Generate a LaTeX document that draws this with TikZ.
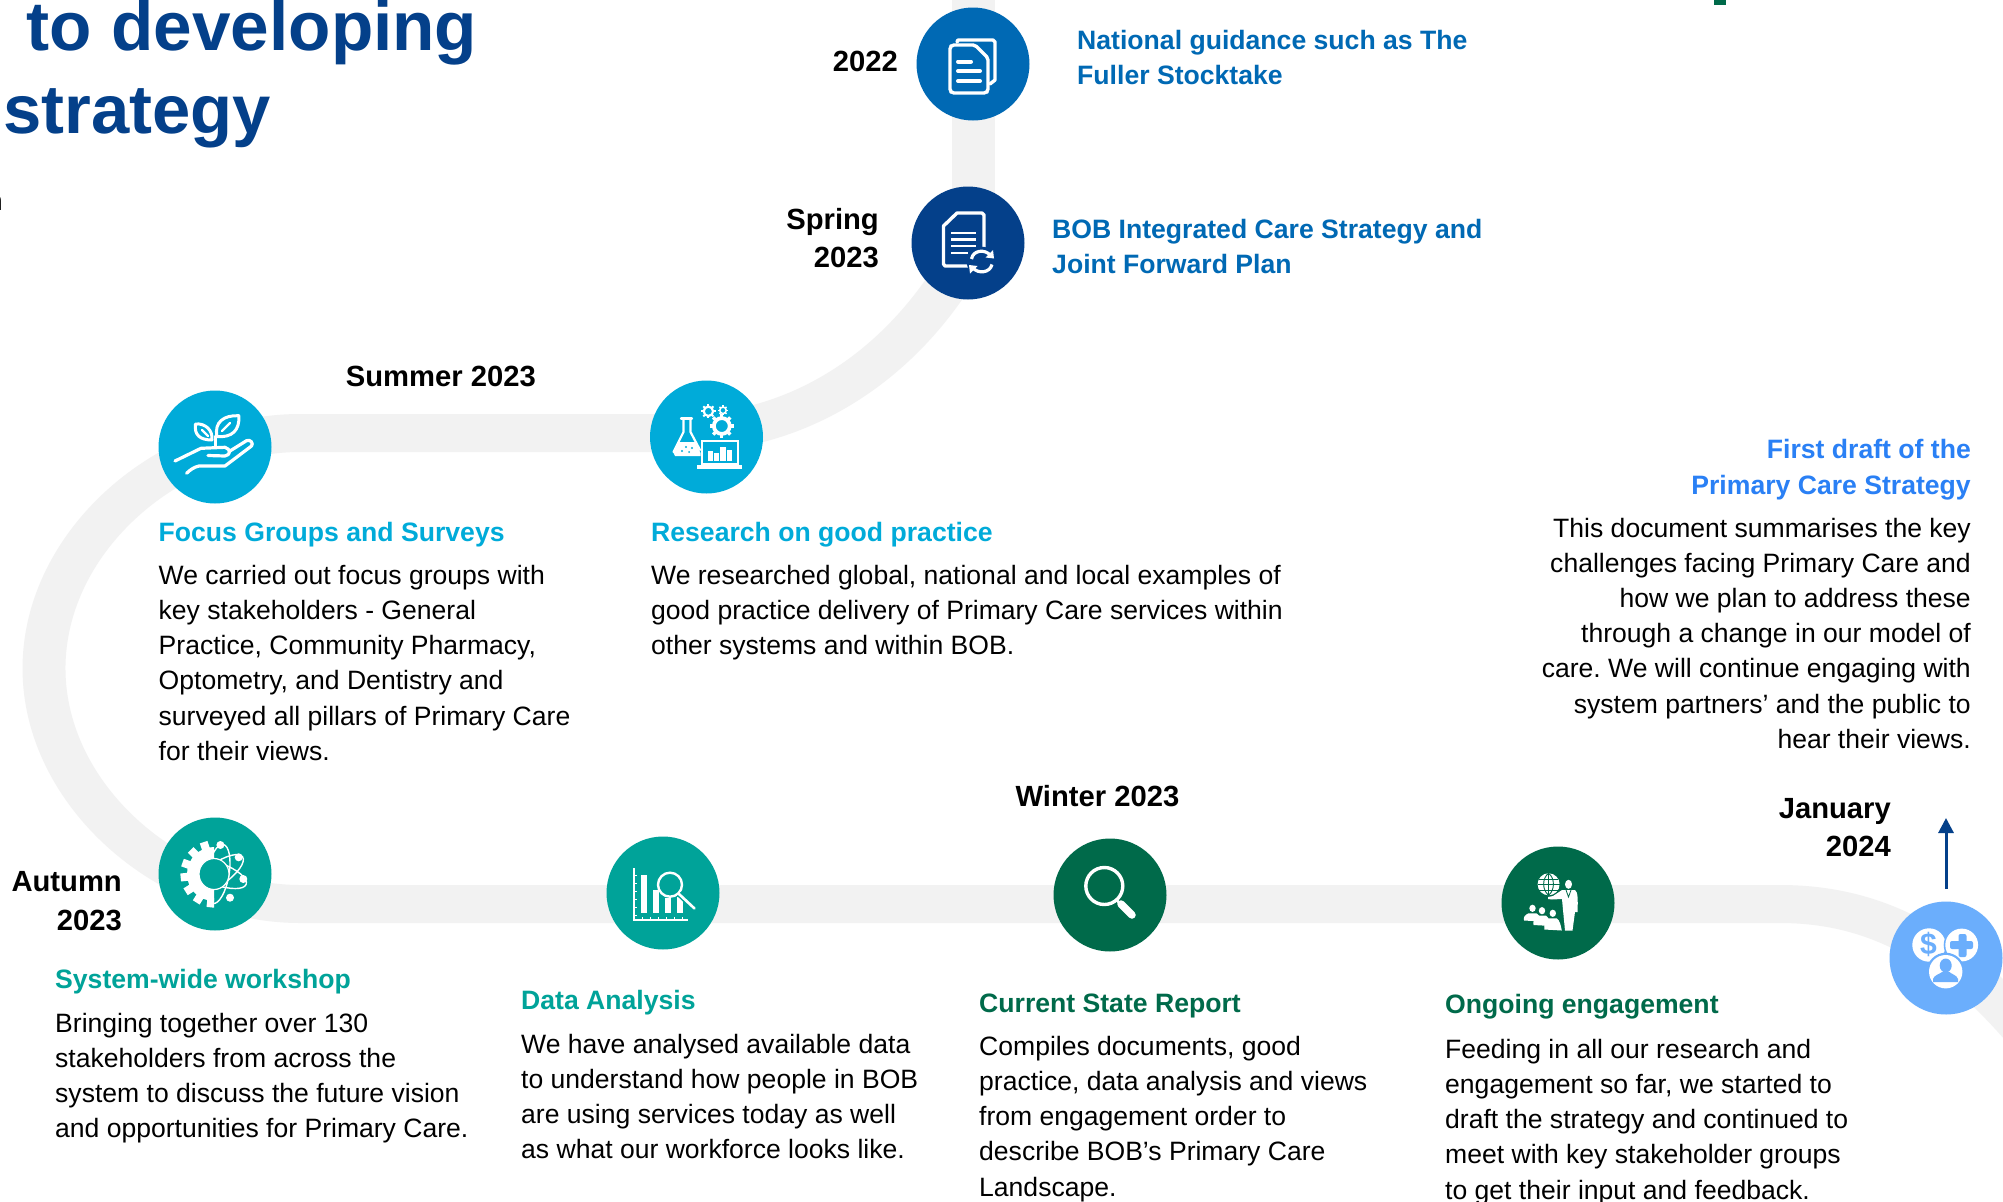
\documentclass[tikz,border=0pt]{standalone}
\usepackage{fontspec}
\setmainfont{Liberation Sans}
\usetikzlibrary{arrows.meta,shapes.geometric}
\definecolor{bandgrey}{HTML}{F2F2F2}
\definecolor{docblue}{HTML}{0069B4}
\definecolor{navy}{HTML}{04408A}
\definecolor{cyanc}{HTML}{00ABD9}
\definecolor{tealc}{HTML}{00A399}
\definecolor{greenc}{HTML}{006A4A}
\definecolor{skyc}{HTML}{6BAEFC}
\definecolor{brightblue}{HTML}{2A80F5}
\tikzset{
  band/.style={draw=bandgrey,line width=38pt},
  circ/.style={circle,inner sep=0,minimum size=#1},
  circ/.default=113pt,
  btxt/.style={font=\frenchspacing\fontsize{26.55}{35.25}\selectfont,inner sep=0,align=left,anchor=north west,yshift=19.4pt,text=black},
  btxtr/.style={font=\frenchspacing\fontsize{26.55}{35.2}\selectfont,inner sep=0,align=right,anchor=north east,yshift=19.4pt,text=black},
  hd/.style={font=\frenchspacing\bfseries\fontsize{26.6}{35.6}\selectfont,inner sep=0,align=left,anchor=north west,yshift=19.4pt},
  hdr/.style={font=\frenchspacing\bfseries\fontsize{26.6}{35.6}\selectfont,inner sep=0,align=right,anchor=north east,yshift=19.4pt},
  dt/.style={font=\bfseries\fontsize{29.2}{38.4}\selectfont,inner sep=0,align=right,anchor=north east,yshift=21pt,text=black},
  ttl/.style={font=\bfseries\fontsize{68.8}{83}\selectfont,inner sep=0,text=navy},
  ico/.style={draw=white,line width=#1,line cap=round,line join=round},
  ico/.default=3.4pt,
}
\newcommand{\gearic}[3]{%
  \draw[white,line width=#3*0.34pt] (#1,#2) circle[radius=#3*0.72pt];
  \foreach \a in {0,45,...,315}{\draw[white,line width=#3*0.3pt] ([shift={(#1,#2)}]\a:#3*0.75) -- ([shift={(#1,#2)}]\a:#3*1.1);}%
}
\begin{document}
\begin{tikzpicture}[x=1pt,y=-1pt]
\useasboundingbox (0,0) rectangle (2003,1202);
\clip (0,0) rectangle (2003,1202);
\fill[white] (0,0) rectangle (2003,1202);

% timeline band (stretched sideways so upright runs are wider than flat runs)
\begin{scope}[x=0.88496pt,transform canvas={xscale=1.13}]
\coordinate (b0) at (973.5,-20);
\coordinate (b1) at (973.5,240);
\coordinate (b2) at (690,433);
\coordinate (b3) at (300,433);
\coordinate (b4) at (44,668.5);
\coordinate (b5) at (300,904);
\coordinate (b6) at (1780,904);
\coordinate (b7) at (2040,1050);
\draw[band] (b0) -- (b1) .. controls (910,365) and (800,431) .. (b2) -- (b3)
  .. controls (170,433) and (44,540) .. (b4) .. controls (44,796) and (170,904) .. (b5)
  -- (b6) .. controls (1880,904) and (1960,950) .. (b7);
\end{scope}

% circles
\node[circ,fill=docblue] (c1) at (973,64) {};
\node[circ,fill=navy] (c2) at (968,243) {};
\node[circ,fill=cyanc] (c3) at (215,447) {};
\node[circ,fill=cyanc] (c4) at (706.5,437) {};
\node[circ,fill=tealc] (c5) at (215,874) {};
\node[circ,fill=tealc] (c6) at (663,893) {};
\node[circ,fill=greenc] (c7) at (1110,895) {};
\node[circ,fill=greenc] (c8) at (1558,903) {};
\node[circ,fill=skyc] (c9) at (1946,958) {};

% icon: documents
\draw[ico] (957,42) -- (958,40) -- (993,40) -- (995,42) -- (995,80) -- (990,84);
\draw[ico,fill=docblue,rounded corners=2pt] (950,47) -- (952,45) -- (975,45) -- (988,58) -- (988,91) -- (986,93) -- (952,93) -- (950,91) -- cycle;
\draw[ico,line width=4pt] (958,61.5) -- (971,61.5);
\draw[ico,line width=4pt] (958,71) -- (980,71);
\draw[ico,line width=4pt] (958,81) -- (980,81);

% icon: document with refresh
\draw[ico] (968,266) -- (945,266) -- (943.5,264) -- (943.5,226) -- (957,213) -- (982,213) -- (984,215) -- (984,250);
\draw[ico,line width=2.4pt,line cap=butt] (951,232.7) -- (976,232.7);
\draw[ico,line width=2.4pt,line cap=butt] (951,239.5) -- (976,239.5);
\draw[ico,line width=2.4pt,line cap=butt] (951,246) -- (976,246);
\draw[ico,line width=2.4pt,line cap=butt] (951,252.7) -- (968,252.7);
\fill[navy] (981.7,261.7) circle[radius=15pt];
\draw[ico,line width=3.2pt,line cap=butt] (971.5,259) .. controls (973,250) and (985,249) .. (990,255);
\draw[ico,line width=3.2pt,line cap=butt] (992,264.5) .. controls (990,273) and (978,274) .. (973,268);
\fill[white] (985.5,257.5) -- (994,258.5) -- (993,250) -- cycle;
\fill[white] (977.5,266) -- (969,265) -- (970,273.5) -- cycle;

% icon: hand with plant
\draw[ico,line width=3.2pt] (175,461) -- (201,448.3) -- (225,447.3) .. controls (231,449) and (231,455) .. (225,456) -- (208,455.5);
\draw[ico,line width=3.2pt] (230,451) -- (246.5,440.7) .. controls (250,439) and (254,443) .. (251.5,446) -- (225,466) -- (199,466) .. controls (194,467) and (190,470) .. (186.6,473.3);
\draw[ico,line width=3pt] (215,446) -- (215,436);
\draw[ico,line width=3pt] (217,436.5) .. controls (214,422) and (224,415) .. (238.8,415.7) .. controls (240,430) and (232,438) .. (217,436.5);
\draw[ico,line width=2.4pt] (222,431) -- (230,423);
\draw[ico,line width=3pt] (212,440) .. controls (200,440) and (194,435) .. (195.5,424) .. controls (205,423) and (213,430) .. (212,440);
\draw[ico,line width=2.4pt] (202,430) -- (208,436);

% icon: flask, laptop, gears
\draw[ico,line width=2.2pt] (681,418.5) -- (692,418.5);
\draw[ico,line width=2.2pt] (683.5,419) -- (683.5,432) -- (673.5,452);
\draw[ico,line width=2.2pt] (690.5,419) -- (690.5,432) -- (700,450);
\fill[white] (678.5,442) -- (695,442) -- (700.5,453) -- (700.5,456) -- (675,456) -- (673,452) -- cycle;
\fill[cyanc] (686,447) circle[radius=1.2pt] (692,448) circle[radius=1.2pt] (682,451) circle[radius=1.2pt] (689,452) circle[radius=1pt];
\draw[white,line width=1.6pt] (702,441) rectangle (738,464);
\fill[white] (697,464.5) rectangle (742,468.5);
\fill[white] (708,451) rectangle (713,460.7);
\fill[white] (714,453.3) rectangle (719,460.7);
\fill[white] (720,447.3) rectangle (726,460.7);
\fill[white] (727,450) rectangle (732,460.7);
\gearic{721.8}{426}{11}
\gearic{708.4}{411.3}{6.5}
\gearic{723}{410.3}{4.5}

% icon: gear with atom
\begin{scope}
  \clip (170,830) rectangle (214,920);
  \fill[white] (214,874) circle[radius=27pt];
  \foreach \a in {96,122,148,174,200,226,252}{\draw[white,line width=8pt] ([shift={(214,874)}]\a:24) -- ([shift={(214,874)}]\a:33.5);}
\end{scope}
\begin{scope}
  \clip (214,830) rectangle (260,920);
  \draw[white,line width=1.4pt] (218,874) ellipse[x radius=30pt,y radius=11pt,rotate=-20];
  \draw[white,line width=1.4pt] (218,874) ellipse[x radius=30pt,y radius=11pt,rotate=35];
  \draw[white,line width=1.4pt] (218,874) ellipse[x radius=30pt,y radius=11pt,rotate=80];
\end{scope}
\draw[white,line width=1.2pt,fill=tealc] (214,874) ellipse[x radius=15pt,y radius=15.5pt];
\fill[white] (220.4,845) circle[radius=4pt] (238.7,857.3) circle[radius=4pt] (243.3,879) circle[radius=4pt] (230,897.7) circle[radius=4pt];

% icon: chart with magnifier
\draw[white,line width=1.5pt] (634,868) -- (634,920) -- (688,920);
\foreach \y in {875,883,891,899,907,915}{\draw[white,line width=0.8pt] (634,\y) -- (637,\y);}
\foreach \x in {642,650,658,666,674,682}{\draw[white,line width=0.8pt] (\x,920) -- (\x,917);}
\fill[white] (641.3,875) rectangle (647,912.7);
\fill[white] (653,890) rectangle (659,912.7);
\fill[white] (665,898) rectangle (671,912.7);
\fill[white] (677,896.7) rectangle (682.7,912.7);
\draw[white,line width=2.4pt,fill=tealc] (670,884.7) circle[radius=12pt];
\draw[tealc,line width=5.5pt] (679,894) -- (695,909);
\draw[white,line width=2.6pt,line cap=round] (679,894) -- (694.5,908.5);

% icon: magnifier
\draw[white,line width=3.4pt] (1104.3,886) circle[radius=18.5pt];
\draw[white,line width=2.5pt] (1116,899) -- (1120,904);
\draw[white,line width=7.5pt,line cap=round] (1121,904) -- (1132,915);

% icon: presenter with globe and audience
\fill[white] (1548.6,884.3) circle[radius=11pt];
\draw[greenc,line width=0.9pt] (1537.6,884.3) -- (1559.6,884.3) (1539,879) -- (1558,879) (1539,890) -- (1558,890) (1548.6,873) -- (1548.6,895.5);
\draw[greenc,line width=0.9pt] (1548.6,873.3) .. controls (1542,878) and (1542,890) .. (1548.6,895.3) .. controls (1555,890) and (1555,878) .. (1548.6,873.3);
\fill[white] (1568.5,884.3) ellipse[x radius=3.5pt,y radius=4.5pt];
\fill[white] (1562,890) -- (1575,890) .. controls (1578,892) and (1578,900) .. (1577.5,912) -- (1575,912) -- (1572.5,930.5) -- (1565,930.5) -- (1563,910) -- (1562,899) -- (1552,899.5) -- (1548,899) -- (1548,897) -- (1553,896) -- cycle;
\draw[greenc,line width=0.8pt] (1566,890) -- (1568.5,897) -- (1571,890);
\foreach \x/\y/\h in {1532.5/908.3/921.5,1542/910.7/926,1552.8/913.3/930.5}{%
  \fill[white] (\x,\y) ellipse[x radius=3.2pt,y radius=3.6pt];
  \fill[white] (\x-4,\y+5) -- (\x+4,\y+5) .. controls (\x+7,\y+7) and (\x+8,\h-5) .. (\x+9,\h) -- (\x-8.5,\h-1) .. controls (\x-9,\h-5) and (\x-8,\y+7) .. (\x-4,\y+5) -- cycle;
}

% icon: three coins
\fill[white] (1929,945) circle[radius=16.7pt];
\node[text=skyc,font=\bfseries\fontsize{30}{30}\selectfont,inner sep=0] (dollar) at (1928.5,944.5) {\$};
\fill[skyc] (1961.7,945) circle[radius=18pt];
\fill[white] (1961.7,945) circle[radius=16.4pt];
\fill[skyc,rounded corners=2pt] (1950,941) rectangle (1973,949);
\fill[skyc,rounded corners=2pt] (1958.5,934) rectangle (1966.5,957);
\fill[skyc] (1945.7,971.7) circle[radius=19pt];
\fill[white] (1945.7,971.7) circle[radius=16.7pt];
\fill[skyc] (1945.7,965.5) ellipse[x radius=6pt,y radius=7pt];
\fill[skyc] (1933,982) -- (1933,979) .. controls (1934,975) and (1940,974) .. (1942,972) -- (1949.5,972) .. controls (1951,974) and (1957,975) .. (1958,979) -- (1958,982) -- cycle;

% arrow
\coordinate (ar0) at (1946,889);
\coordinate (ar1) at (1946,818);
\draw[navy,line width=3pt,-{Triangle[length=15pt,width=15pt]}] (ar0) -- (ar1);

% title fragments
\node[ttl,anchor=base east,font=\bfseries\fontsize{69.3}{83}\selectfont] (t1) at (477.5,50) {n\hspace{5pt} to developing};
\node[ttl,anchor=base west] (t2) at (3,133) {strategy};
\node[anchor=base east,inner sep=0,font=\bfseries\fontsize{28}{30}\selectfont] (t3) at (3,210) {n};
\fill[greenc] (1714,-2) rectangle (1726,4.5);

% dates
\node[dt] (d1) at (898,71.5) {2022};
\node[dt] (d2) at (879,229) {Spring\\2023};
\node[dt] (d3) at (536,387) {Summer 2023};
\node[dt] (d4) at (122,892.5) {Autumn\\2023};
\node[dt] (d5) at (1179.5,806) {Winter 2023};
\node[dt] (d6) at (1891,819) {January\\2024};

% headings and text
\node[hd,text=docblue] (h1) at (1077,49) {National guidance such as The\\Fuller Stocktake};
\node[hd,text=docblue] (h2) at (1052,238) {BOB Integrated Care Strategy and\\Joint Forward Plan};

\node[hd,text=cyanc] (h3) at (158.5,541) {Focus Groups and Surveys};
\node[btxt] (p3) at (158.5,584) {We carried out focus groups with\\key stakeholders - General\\Practice, Community Pharmacy,\\Optometry, and Dentistry and\\surveyed all pillars of Primary Care\\for their views.};

\node[hd,text=cyanc] (h4) at (651,541) {Research on good practice};
\node[btxt] (p4) at (651,584) {We researched global, national and local examples of\\good practice delivery of Primary Care services within\\other systems and within BOB.};

\node[hdr,text=brightblue] (h9) at (1971,458.5) {First draft of the\\Primary Care Strategy};
\node[btxtr] (p9) at (1971,537) {This document summarises the key\\challenges facing Primary Care and\\how we plan to address these\\through a change in our model of\\care. We will continue engaging with\\system partners’ and the public to\\hear their views.};

\node[hd,text=tealc] (h5) at (55,988) {System-wide workshop};
\node[btxt] (p5) at (55,1032) {Bringing together over 130\\stakeholders from across the\\system to discuss the future vision\\and opportunities for Primary Care.};

\node[hd,text=tealc] (h6) at (521,1009) {Data Analysis};
\node[btxt] (p6) at (521,1053) {We have analysed available data\\to understand how people in BOB\\are using services today as well\\as what our workforce looks like.};

\node[hd,text=greenc] (h7) at (979,1013) {Current State Report};
\node[btxt] (p7) at (979,1055) {Compiles documents, good\\practice, data analysis and views\\from engagement order to\\describe BOB’s Primary Care\\Landscape.};

\node[hd,text=greenc] (h8) at (1445,1013) {Ongoing engagement};
\node[btxt] (p8) at (1445,1058) {Feeding in all our research and\\engagement so far, we started to\\draft the strategy and continued to\\meet with key stakeholder groups\\to get their input and feedback.};
\end{tikzpicture}
\end{document}
